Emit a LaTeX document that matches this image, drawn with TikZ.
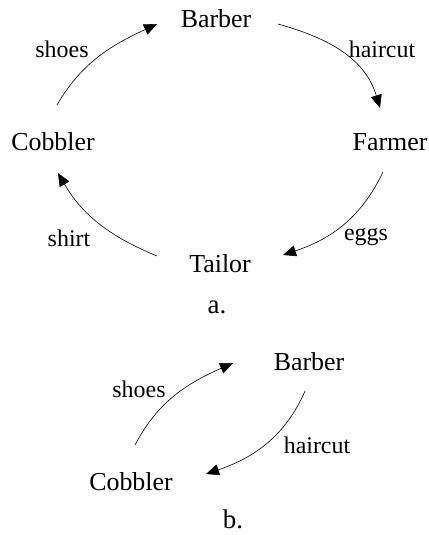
\documentclass[tikz,border=0pt]{standalone}
\usepackage{fontspec}
\setmainfont{Liberation Serif}
\usetikzlibrary{arrows.meta}
\begin{document}
\begin{tikzpicture}[x=1bp,y=-1bp,
  who/.style={anchor=base,inner sep=0pt,font=\fontsize{26}{30}\selectfont},
  goods/.style={anchor=base,inner sep=0pt,font=\fontsize{24}{28}\selectfont},
  caption/.style={anchor=base,inner sep=0pt,font=\fontsize{27}{30}\selectfont},
  trade/.style={line width=0.6bp,-{Triangle[length=13bp,width=11bp]}}]
\useasboundingbox (0,0) rectangle (428,535);

% (a) four-party exchange cycle
\node[who] (bar) at (216,28) {Barber};
\node[who] (far) at (390,151) {Farmer};
\node[who] (cob) at (53,151) {Cobbler};
\node[who] (tai) at (220,272) {Tailor};
\node[goods] (l-shoes) at (62,58) {shoes};
\node[goods] (l-hair) at (382,58) {haircut};
\node[goods] (l-shirt) at (69,246) {shirt};
\node[goods] (l-eggs) at (366,240) {eggs};
\node[caption] (cap-a) at (217,313) {a.};

\draw[trade] ([shift={(4,-46)}]cob.base) .. controls +(25,-43) and +(-45,21) .. ([shift={(-59,-4)}]bar.base);
\draw[trade] ([shift={(62,-4)}]bar.base) .. controls +(50,14) and +(-15,-50) .. ([shift={(-10,-43)}]far.base);
\draw[trade] ([shift={(-7,21)}]far.base) .. controls +(-22,46) and +(48,-16) .. ([shift={(63,-17)}]tai.base);
\draw[trade] ([shift={(-63,-16)}]tai.base) .. controls +(-46,-19) and +(25,43) .. ([shift={(5,22)}]cob.base);

% (b) two-party exchange
\node[who] (bar2) at (309,370) {Barber};
\node[who] (cob2) at (131,490) {Cobbler};
\node[goods] (l-shoes2) at (139,397) {shoes};
\node[goods] (l-hair2) at (317,453) {haircut};
\node[caption] (cap-b) at (233,528) {b.};

\draw[trade] ([shift={(4,-45)}]cob2.base) .. controls +(23,-44) and +(-45,20) .. ([shift={(-76,-7)}]bar2.base);
\draw[trade] ([shift={(-4,21)}]bar2.base) .. controls +(-20,46) and +(47,-16) .. ([shift={(75,-16)}]cob2.base);
\end{tikzpicture}
\end{document}
